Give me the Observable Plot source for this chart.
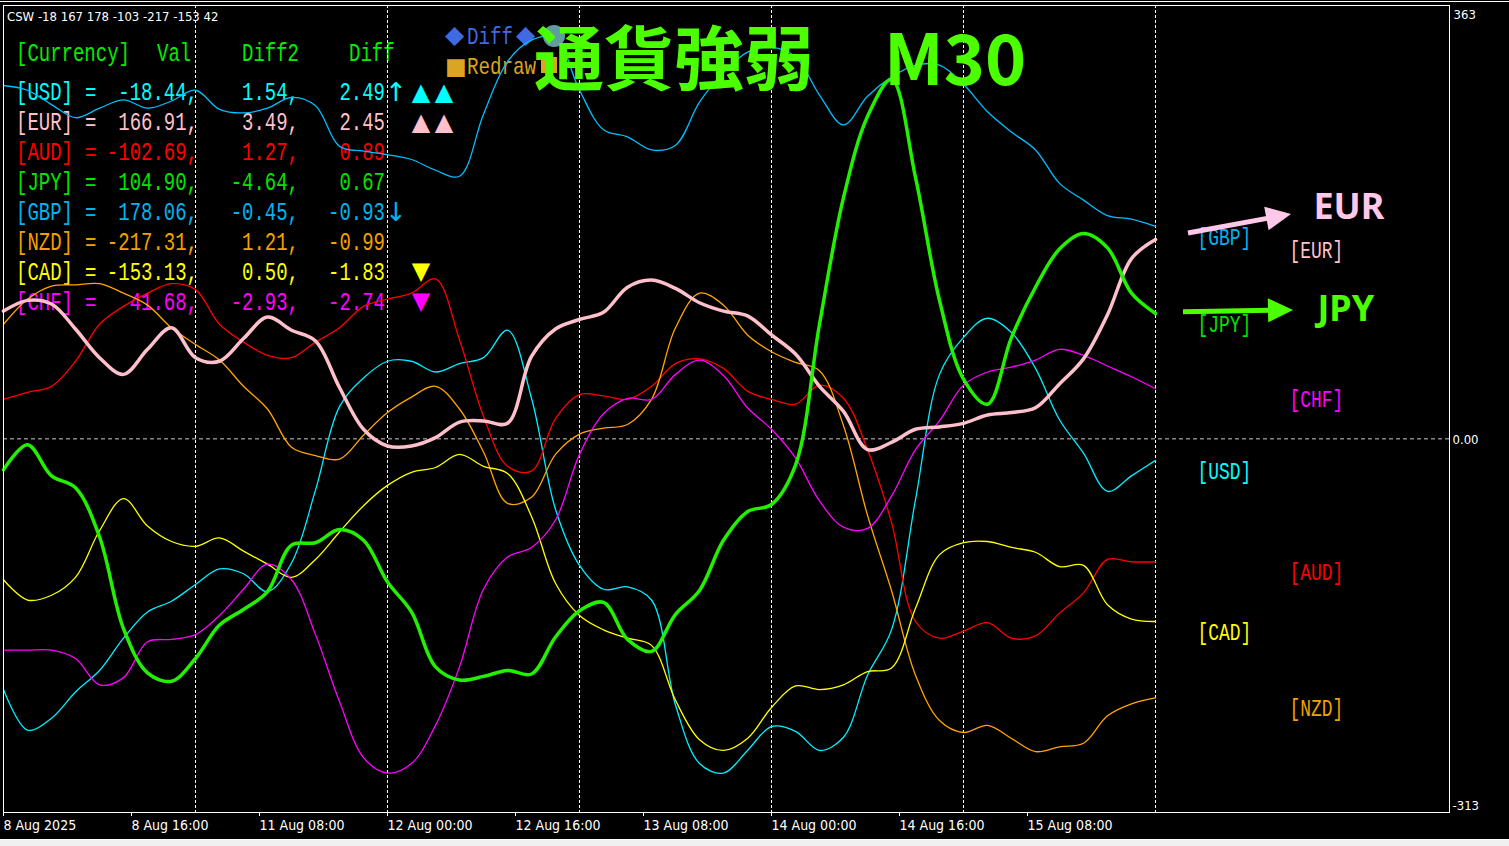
<!DOCTYPE html>
<html>
<head>
<meta charset="utf-8">
<script src="https://cdn.jsdelivr.net/npm/d3@7"></script>
<script src="https://cdn.jsdelivr.net/npm/@observablehq/plot@0.6"></script>
<style>
html, body { margin:0; padding:0; background:#000; overflow:hidden; }
#chart { width:1509px; height:839px; }
#chart svg { display:block; }
#tabs { width:1509px; height:6px; background:#f0f0f0; border-top:1px solid #ffffff; }
</style>
</head>
<body>
<div id="chart"></div>
<div id="tabs"></div>
<script>
// ---- DATA ----
// bar index on the M30 timeline (one sample every 6 bars = 3 hours)
const bars = d3.range(0, 289, 6);

const usd = [-210,-244,-234,-212,-194,-167,-145,-136,-122,-109,-113,-128,-104,-43,27,51,65,65,56,63,68,91,34,-59,-106,-126,-124,-135,-223,-272,-280,-261,-241,-245,-261,-250,-198,-160,-51,54,85,101,89,59,16,-12,-44,-31,-18];
const eur = [107,116,113,92,68,54,75,93,68,65,84,102,91,82,43,8,-6,-6,1,14,15,13,69,92,100,106,127,133,126,114,107,103,87,71,44,23,-9,-3,8,10,13,20,22,26,46,67,104,151,167];
const aud = [33,39,44,65,96,111,122,130,125,96,81,70,68,81,93,111,117,122,134,83,19,-23,-27,17,37,36,33,44,63,67,59,40,33,29,45,34,-9,-70,-153,-167,-161,-154,-167,-165,-146,-129,-101,-103,-103];
const jpy = [-26,-5,-31,-41,-82,-159,-196,-203,-184,-156,-143,-128,-89,-87,-76,-85,-120,-145,-191,-202,-199,-194,-197,-166,-144,-137,-168,-178,-147,-127,-85,-61,-55,-22,96,202,270,301,219,116,50,29,85,127,159,172,160,122,105];
const gbp = [296,292,280,269,277,284,277,283,292,276,273,277,286,279,245,241,238,234,225,220,272,316,334,336,292,259,253,242,246,282,307,324,328,320,288,263,287,303,313,313,297,274,257,242,214,200,187,184,178];
const nzd = [96,117,128,129,130,122,112,93,79,66,44,25,-7,-14,-17,3,22,35,44,25,-11,-54,-49,-13,4,9,12,33,93,122,112,87,73,64,57,11,-64,-127,-198,-236,-246,-240,-251,-262,-258,-255,-232,-222,-217];
const cad = [-118,-135,-131,-116,-77,-50,-73,-86,-90,-83,-94,-105,-116,-101,-78,-56,-39,-28,-24,-13,-23,-29,-65,-121,-148,-160,-167,-173,-219,-252,-261,-251,-225,-207,-210,-206,-195,-192,-142,-97,-87,-86,-91,-95,-107,-106,-139,-151,-153];
const chf = [-177,-177,-177,-184,-206,-200,-170,-168,-164,-148,-126,-105,-118,-164,-220,-267,-280,-272,-240,-191,-126,-99,-91,-68,-13,21,34,33,54,66,53,26,8,-16,-52,-74,-75,-48,-9,15,45,56,60,66,75,70,61,52,42];

const currencies = ["USD","EUR","AUD","JPY","GBP","NZD","CAD","CHF"];
const seriesValues = {USD:usd, EUR:eur, AUD:aud, JPY:jpy, GBP:gbp, NZD:nzd, CAD:cad, CHF:chf};

// table (top-left panel)
const tableVal   = ["-18.44","166.91","-102.69","104.90","178.06","-217.31","-153.13","41.68"];
const tableDiff2 = ["1.54","3.49","1.27","-4.64","-0.45","1.21","0.50","-2.93"];
const tableDiff  = ["2.49","2.45","0.89","0.67","-0.93","-0.99","-1.83","-2.74"];
const tableArrow = ["↑","","","","↓","","",""];
const tableSignal= ["▲▲","▲▲","","","","","▼","▼"];

// axes
const tickBars   = [0,32,64,96,128,160,192,224,256];
const tickLabels = ["8 Aug 2025","8 Aug 16:00","11 Aug 08:00","12 Aug 00:00","12 Aug 16:00","13 Aug 08:00","14 Aug 00:00","14 Aug 16:00","15 Aug 08:00"];
const dayBars    = [48,96,144,192,240,288];
const yTicks     = [363, 0, -313];
const yTickText  = ["363","0.00","-313"];
const endLabelBars = [298.5, 321.5];

// callouts (strongest currencies)
const callouts = [
  {cur:"EUR", fromBar:296.25, fromValue:172, toBar:322,   toValue:188,   textBar:327.6, textValue:183.8, color:"#ffc8e8"},
  {cur:"JPY", fromBar:295,    fromValue:106, toBar:322.5, toValue:107.6, textBar:328.6, textValue:98.4,  color:"#4cff00"}
];

// ---- STYLE ----
const lineColors = {USD:"#00f0ff", EUR:"#ffc0cb", AUD:"#ff0000", JPY:"#22f000", GBP:"#00bfff", NZD:"#ffa500", CAD:"#ffff00", CHF:"#ff00ff"};
const textColors = {USD:"#00ffff", EUR:"#ffc0cb", AUD:"#ff0000", JPY:"#00e600", GBP:"#00b4f0", NZD:"#f5a000", CAD:"#ffff00", CHF:"#ff00ff"};
const lineWidths = {USD:1.3, EUR:3.5, AUD:1.3, JPY:3.5, GBP:1.3, NZD:1.3, CAD:1.3, CHF:1.3};
const drawOrder = ["USD","AUD","GBP","NZD","CAD","CHF","EUR","JPY"];
const MONO = "'Liberation Mono','DejaVu Sans Mono',monospace";
const AXISFONT = "'DejaVu Sans Condensed','DejaVu Sans',sans-serif";

const ranked = currencies
  .map(c => ({cur:c, value: seriesValues[c][seriesValues[c].length - 1]}))
  .sort((a, b) => b.value - a.value);
const endLabels = ranked.map((d, i) => ({...d, bar: endLabelBars[i % 2], color: textColors[d.cur]}));

const lineMarks = drawOrder.map(c => Plot.line(seriesValues[c], {
  x: (d, i) => bars[i], y: d => d,
  stroke: lineColors[c], strokeWidth: lineWidths[c],
  curve: "catmull-rom", strokeLinejoin: "round"
}));

const plot = Plot.plot({
  width: 1509, height: 839,
  marginLeft: 3, marginRight: 60, marginTop: 5, marginBottom: 27,
  x: {domain: [0, 361.5]},
  y: {domain: [-313, 363], axis: null},
  color: {type: "identity"},
  style: {background: "#000", color: "#fff", fontFamily: AXISFONT, fontSize: "14px", overflow: "visible"},
  marks: [
    Plot.ruleX(dayBars, {x: d => d, stroke: "#ffffff", strokeDasharray: "3,2", strokeWidth: 1}),
    Plot.ruleY([0], {stroke: "#c8c8c8", strokeDasharray: "4,3", strokeWidth: 1}),
    ...lineMarks,
    Plot.frame({stroke: "#ffffff"}),
    Plot.axisX(tickBars, {
      tickFormat: d => tickLabels[tickBars.indexOf(d)],
      textAnchor: "start", tickSize: 4, tickPadding: 4, label: null,
      fontSize: 14, fontFamily: AXISFONT
    }),
    Plot.text([yTicks[0]], {y: d => d, text: () => yTickText[0], frameAnchor: "right", textAnchor: "start", lineAnchor: "top", dx: 4, dy: 4, fill: "#fff", fontSize: 13}),
    Plot.text([yTicks[1]], {y: d => d, text: () => yTickText[1], frameAnchor: "right", textAnchor: "start", lineAnchor: "middle", dx: 3, dy: 1, fill: "#fff", fontSize: 13}),
    Plot.text([yTicks[2]], {y: d => d, text: () => yTickText[2], frameAnchor: "right", textAnchor: "start", lineAnchor: "bottom", dx: 3, dy: -3, fill: "#fff", fontSize: 13}),
    Plot.text(endLabels, {
      x: "bar", y: "value", text: d => `[${d.cur}]`, fill: "color",
      textAnchor: "start", lineAnchor: "middle", dy: 11,
      fontSize: 23, fontFamily: MONO
    })
  ]
});
document.getElementById("chart").appendChild(plot);

const svg = d3.select(plot);

// narrow the monospace end labels (tall, condensed terminal look)
svg.selectAll("text").filter(function() { return /^\[[A-Z]{3}\]$/.test(this.textContent); }).each(function() {
  const t = this.getAttribute("transform");
  if (t) this.setAttribute("transform", t + " scale(0.78,1)");
  else {
    const x = parseFloat(this.getAttribute("x")) || 0;
    this.removeAttribute("x");
    this.setAttribute("transform", `translate(${x},0) scale(0.78,1)`);
  }
});

// ---- overlays ----
const sx = plot.scale("x"), sy = plot.scale("y");
const under = svg.insert("g", "g").attr("aria-label", "panel").attr("text-anchor", "start");
const over = svg.append("g").attr("aria-label", "annotations").attr("text-anchor", "start");

function mono(g, x, y, str, color, size, scaleX, anchor) {
  return g.append("text")
    .attr("transform", `translate(${x},${y}) scale(${scaleX},1)`)
    .attr("text-anchor", anchor || "start")
    .attr("font-family", MONO).attr("font-size", size)
    .attr("fill", color).text(str);
}

// top border line
over.append("line").attr("x1", 0).attr("x2", 1509).attr("y1", 1.5).attr("y2", 1.5).attr("stroke", "#fff").attr("stroke-width", 1);

// CSW line
under.append("text").attr("x", 7).attr("y", 21).attr("font-family", AXISFONT).attr("font-size", 13)
  .attr("fill", "#fff")
  .text("CSW " + [0,1,4,2,5,6,7].map(i => Math.round(+tableVal[i])).join(" "));

// header
const HDR = "#00ee00";
mono(under, 16, 61, "[Currency]", HDR, 25, 0.76);
mono(under, 157, 61, "Val", HDR, 25, 0.76);
mono(under, 242, 61, "Diff2", HDR, 25, 0.76);
mono(under, 349, 61, "Diff", HDR, 25, 0.76);

currencies.forEach((c, i) => {
  const y = 100 + 30 * i, col = textColors[c];
  mono(under, 16, y, `[${c}]`, col, 25, 0.76);
  mono(under, 85, y, "=", col, 25, 0.76);
  mono(under, 198, y, tableVal[i] + ",", col, 25, 0.76, "end");
  mono(under, 299, y, tableDiff2[i] + ",", col, 25, 0.76, "end");
  mono(under, 385, y, tableDiff[i], col, 25, 0.76, "end");
  if (tableArrow[i]) {
    under.append("text").attr("x", 396).attr("y", y + 1).attr("text-anchor", "middle")
      .attr("font-family", "'DejaVu Sans',sans-serif").attr("font-size", 26).attr("fill", col).text(tableArrow[i]);
  }
  [...tableSignal[i]].forEach((s, j) => {
    under.append("text").attr("x", 421 + 23 * j).attr("y", s === "▲" ? y : y - 1)
      .attr("text-anchor", "middle").attr("font-family", "'DejaVu Sans',sans-serif")
      .attr("font-size", 24).attr("fill", col).text(s);
  });
});

// Diff / Redraw buttons
under.append("text").attr("x", 445).attr("y", 43).attr("font-family", "'DejaVu Sans',sans-serif").attr("font-size", 25).attr("fill", "#4169e1").text("◆");
mono(under, 467, 44, "Diff", "#4169e1", 24, 0.8);
under.append("text").attr("x", 516).attr("y", 43).attr("font-family", "'DejaVu Sans',sans-serif").attr("font-size", 25).attr("fill", "#4169e1").text("◆");
over.append("circle").attr("cx", 554).attr("cy", 36).attr("r", 11).attr("fill", "#5f9ea0");
under.append("text").attr("x", 445).attr("y", 74).attr("font-family", "'DejaVu Sans',sans-serif").attr("font-size", 23).attr("fill", "#daa520").text("■");
mono(under, 467, 74, "Redraw", "#daa520", 24, 0.8);
over.append("rect").attr("x", 541).attr("y", 57).attr("width", 16).attr("height", 16).attr("fill", "#daa520");

// title
over.append("text").attr("x", 534).attr("y", 85)
  .attr("font-family", "'Noto Sans CJK JP','Noto Sans CJK SC',sans-serif").attr("font-weight", 700)
  .attr("font-size", 70).attr("fill", "#4cff00").text("通貨強弱　M30");

// callout arrows
callouts.forEach(c => {
  const x1 = sx.apply(c.fromBar), y1 = sy.apply(c.fromValue);
  const x2 = sx.apply(c.toBar), y2 = sy.apply(c.toValue);
  const L = Math.hypot(x2 - x1, y2 - y1), ux = (x2 - x1) / L, uy = (y2 - y1) / L;
  const hl = 25, hw = 12, bx = x2 - ux * hl, by = y2 - uy * hl;
  over.append("line").attr("x1", x1).attr("y1", y1).attr("x2", bx + ux * 2).attr("y2", by + uy * 2)
    .attr("stroke", c.color).attr("stroke-width", 5);
  over.append("path").attr("d", `M${x2},${y2}L${bx - uy * hw},${by + ux * hw}L${bx + uy * hw},${by - ux * hw}Z`).attr("fill", c.color);
  over.append("text").attr("x", sx.apply(c.textBar)).attr("y", sy.apply(c.textValue))
    .attr("font-family", "'Noto Sans',sans-serif").attr("font-weight", 700).attr("font-size", 36)
    .attr("fill", c.color).text(c.cur);
});
</script>
</body>
</html>
